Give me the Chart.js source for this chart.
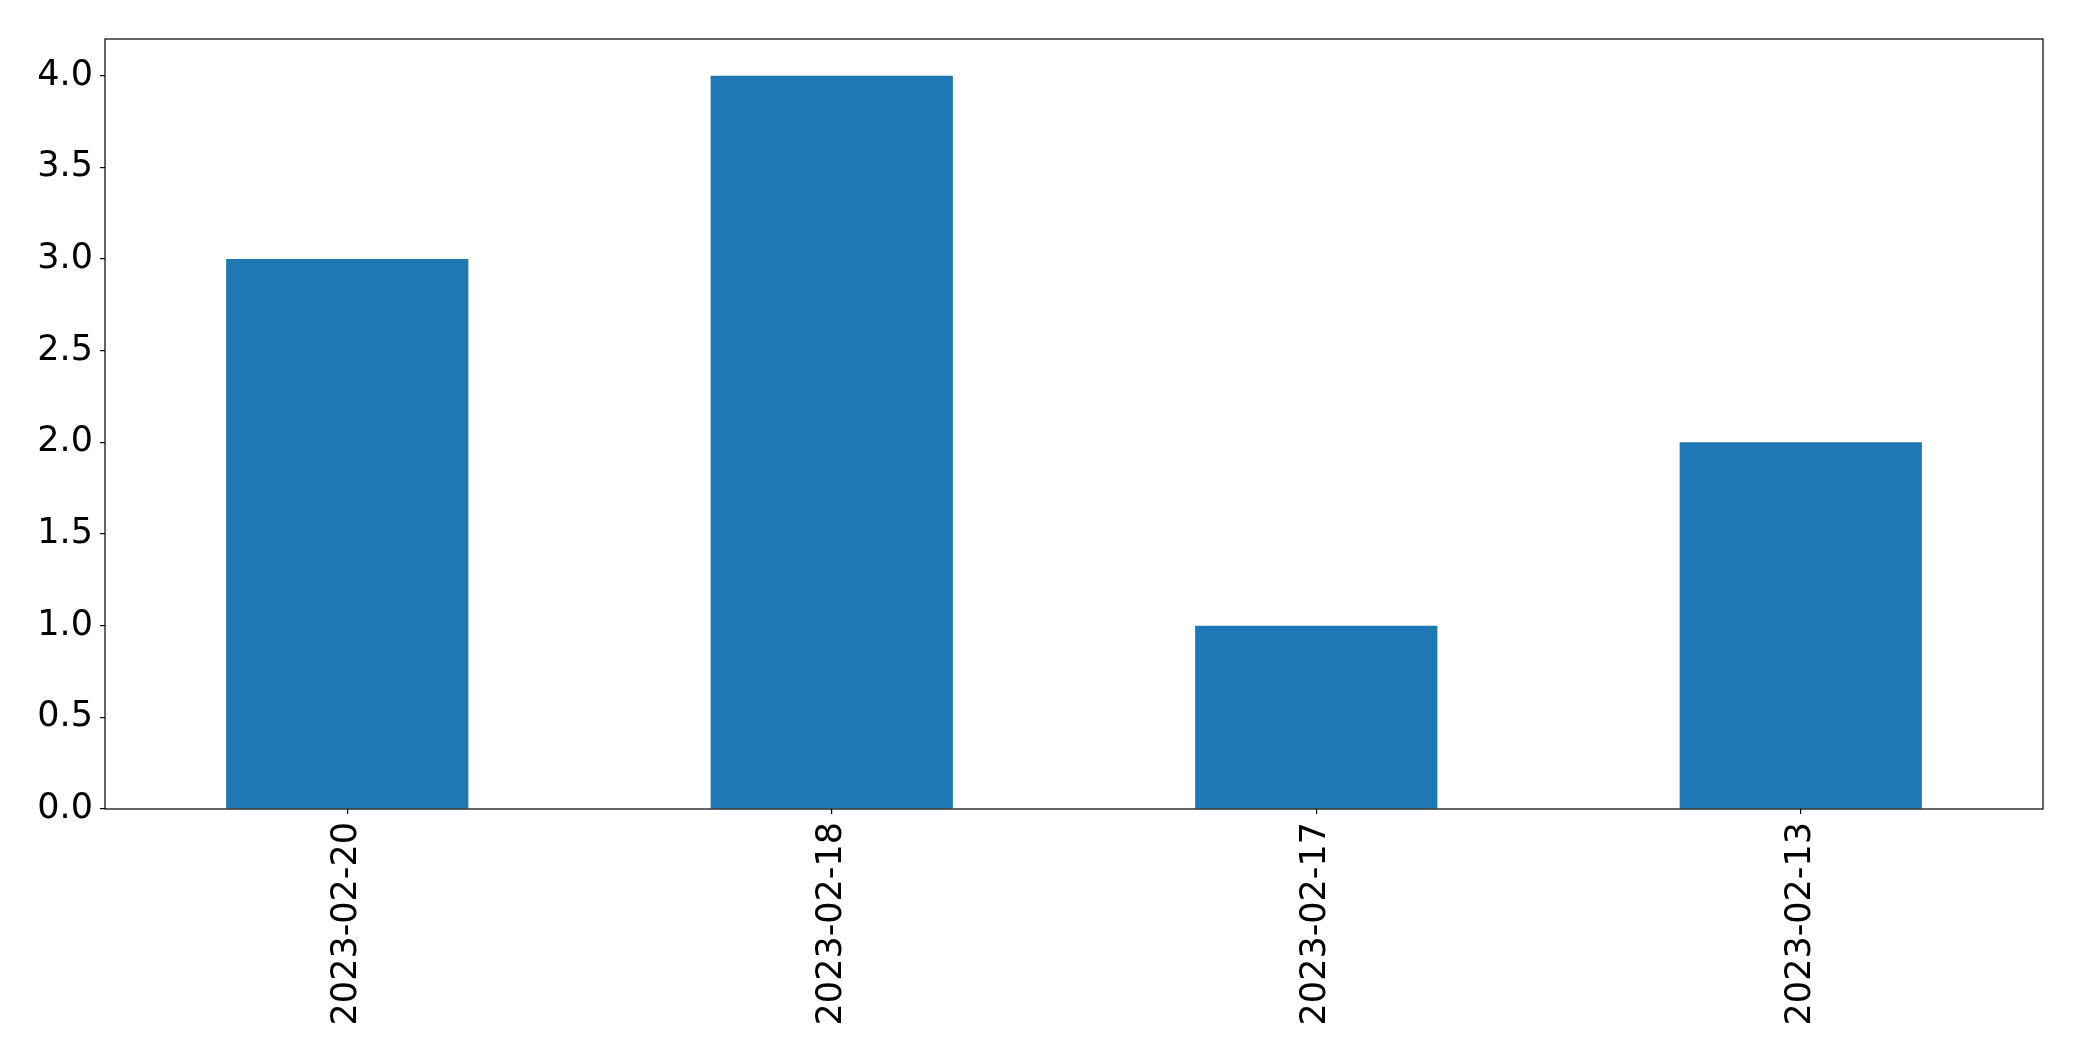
<html>
<head>
<script src="https://cdn.jsdelivr.net/npm/chart.js"></script>
<style>
  body { margin: 0; background: #fff; }
  #wrap { width: 2082px; height: 1061px; }
</style>
</head>
<body>
<div id="wrap"><canvas id="myChart"></canvas></div>
<script>
const categories = ['2023-02-20', '2023-02-18', '2023-02-17', '2023-02-13'];
const counts = [3, 4, 1, 2];
const yTicks = [0, 0.5, 1, 1.5, 2, 2.5, 3, 3.5, 4];

// box around the plot like matplotlib spines
const frame = {
  id: 'frame',
  afterDraw(chart) {
    const a = chart.chartArea, ctx = chart.ctx;
    ctx.save();
    ctx.strokeStyle = '#000';
    ctx.lineWidth = 1.2;
    ctx.strokeRect(a.left, a.top, a.right - a.left, a.bottom - a.top);
    ctx.restore();
  }
};

new Chart(document.getElementById('myChart'), {
  type: 'bar',
  data: {
    labels: categories,
    datasets: [{
      data: counts,
      backgroundColor: '#1f77b4',
      borderWidth: 0,
      barPercentage: 0.5,
      categoryPercentage: 1.0
    }]
  },
  options: {
    responsive: true,
    maintainAspectRatio: false,
    devicePixelRatio: 1,
    animation: false,
    layout: { padding: { top: 39, right: 39, left: 0, bottom: 0 } },
    plugins: { legend: { display: false }, tooltip: { enabled: false } },
    scales: {
      x: {
        offset: true,
        grid: { display: true, offset: false, drawOnChartArea: false, tickLength: 5, color: '#000', lineWidth: 1.2 },
        border: { display: false },
        ticks: {
          color: '#000', padding: 8, maxRotation: 90, minRotation: 90,
          font: { family: 'DejaVu Sans', size: 35 }
        },
        afterFit(scale) { scale.height = 252; }
      },
      y: {
        min: 0,
        max: 4.2,
        grid: { display: true, drawOnChartArea: false, tickLength: 5, color: '#000', lineWidth: 1.2 },
        border: { display: false },
        afterBuildTicks(scale) { scale.ticks = yTicks.map(v => ({ value: v })); },
        ticks: {
          color: '#000', padding: 7,
          font: { family: 'DejaVu Sans', size: 35 },
          callback: v => Number(v).toFixed(1)
        },
        afterFit(scale) { scale.width = 105; }
      }
    }
  },
  plugins: [frame]
});
</script>
</body>
</html>
